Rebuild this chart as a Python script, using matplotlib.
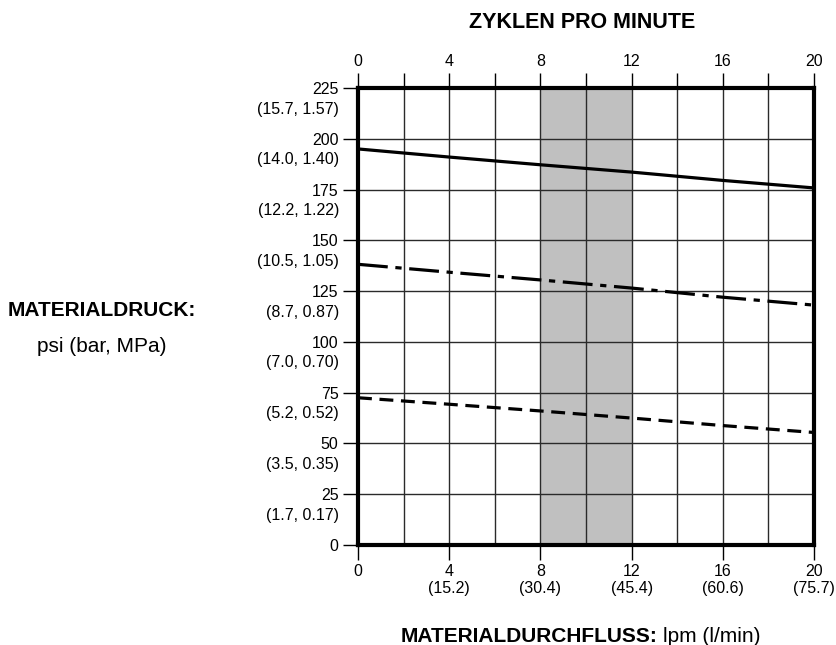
import matplotlib
matplotlib.use("Agg")
import matplotlib.pyplot as plt
import matplotlib.transforms as mtransforms

# Pump performance chart: material pressure vs. flow / cycles per minute

flow = [0, 4, 8, 12, 16, 20]
pressure_high = [195, 191, 187.2, 183.6, 179.5, 175.8]
pressure_mid = [138.2, 134.3, 130.5, 126.5, 122, 118.1]
pressure_low = [72.5, 69.3, 66, 62.5, 58.8, 55.4]

shade_range = (8, 12)

y_ticks = [0, 25, 50, 75, 100, 125, 150, 175, 200, 225]
y_sub_labels = ["", "(1.7, 0.17)", "(3.5, 0.35)", "(5.2, 0.52)", "(7.0, 0.70)",
                "(8.7, 0.87)", "(10.5, 1.05)", "(12.2, 1.22)", "(14.0, 1.40)", "(15.7, 1.57)"]
x_ticks = [0, 4, 8, 12, 16, 20]
x_labels = ["0", "4\n(15.2)", "8\n(30.4)", "12\n(45.4)", "16\n(60.6)", "20\n(75.7)"]
top_ticks = list(range(0, 21, 2))

plt.rcParams["font.family"] = ["Liberation Sans", "DejaVu Sans"]
plt.rcParams["lines.scale_dashes"] = False

W, H = 836, 645
fig = plt.figure(figsize=(W / 100, H / 100), dpi=100)
ax = fig.add_axes([358 / W, 100 / H, 456 / W, 457 / H])

ax.set_xlim(0, 20)
ax.set_ylim(0, 225)

ax.axvspan(*shade_range, color="#c0c0c0", zorder=0.3, lw=0)

# grid
ax.set_xticks(x_ticks)
ax.set_xticks([t for t in top_ticks if t not in x_ticks], minor=True)
ax.set_yticks(y_ticks)
ax.grid(True, which="both", color="#2a2a2a", lw=1.0, zorder=0.5)
ax.set_axisbelow(True)

ax.plot(flow, pressure_high, color="black", lw=2.3, solid_capstyle="butt", zorder=3)
ax.plot(flow, pressure_mid, color="black", lw=2.3, dashes=(21.5, 5.5, 4.5, 5.5),
        dash_capstyle="butt", zorder=3)
ax.plot(flow, pressure_low, color="black", lw=2.3, dashes=(10, 5.5),
        dash_capstyle="butt", zorder=3)

for s in ax.spines.values():
    s.set_linewidth(3.0)
    s.set_color("black")
    s.set_zorder(4)

ax.set_xticklabels(x_labels, fontsize=11.5, linespacing=1.15)
ax.tick_params(axis="x", which="major", direction="out", length=11, width=1.0, pad=3)
ax.tick_params(axis="x", which="minor", length=0)
ax.tick_params(axis="y", direction="out", length=11, width=1.0, pad=3, labelsize=11.5)

# top axis: cycles per minute
top = ax.secondary_xaxis("top")
top.set_xticks(top_ticks)
top.set_xticklabels([str(t) if t % 4 == 0 else "" for t in top_ticks], fontsize=11.5)
top.tick_params(direction="out", length=10.5, width=1.0, pad=3)
top.spines["top"].set_visible(False)

# second line of the pressure tick labels
sub_tr = mtransforms.offset_copy(ax.get_yaxis_transform(), fig=fig, y=-21, units="dots")
for yv, lab in zip(y_ticks, y_sub_labels):
    if lab:
        ax.text(-19 / 456, yv, lab, transform=sub_tr, ha="right", va="center", fontsize=11.5)

fig.text(582 / W, 1 - 22 / H, "ZYKLEN PRO MINUTE", ha="center", va="center",
         fontsize=15.5, fontweight="bold")
fig.text(102 / W, 1 - 311 / H, "MATERIALDRUCK:", ha="center", va="center",
         fontsize=15, fontweight="bold")
fig.text(102 / W, 1 - 346 / H, "psi (bar, MPa)", ha="center", va="center", fontsize=15)
fig.text(657 / W, 1 - 636 / H, "MATERIALDURCHFLUSS:", ha="right", va="center",
         fontsize=15, fontweight="bold")
fig.text(663 / W, 1 - 636 / H, "lpm (l/min)", ha="left", va="center", fontsize=15)

fig.savefig("out.png", dpi=100)
